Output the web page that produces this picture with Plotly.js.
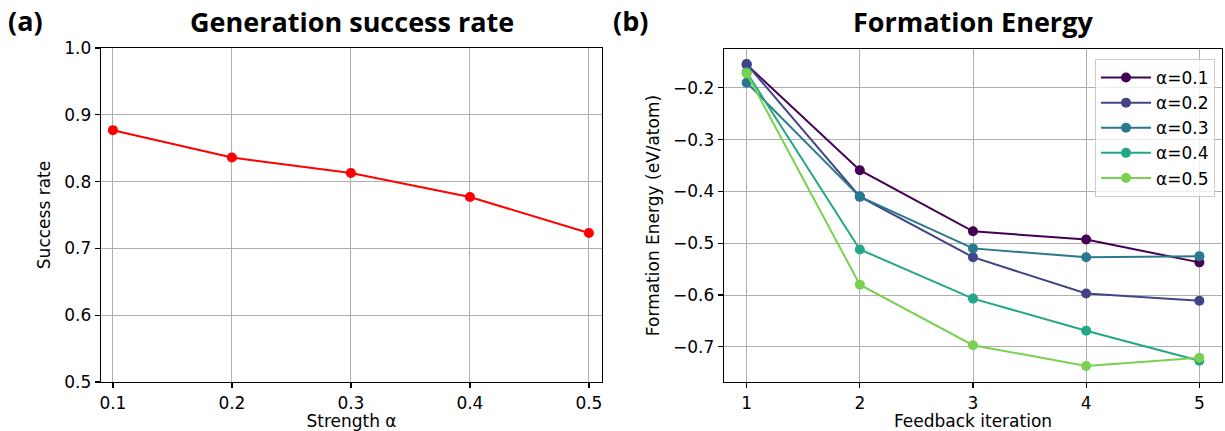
<!DOCTYPE html>
<html>
<head>
<meta charset="utf-8">
<script src="https://cdn.plot.ly/plotly-3.0.1.min.js"></script>
<style>html,body{margin:0;padding:0;background:#fff;}#chart{width:1225px;height:431px;}</style>
</head>
<body>
<div id="chart"></div>
<script>
// Panel (a): generation success rate vs strength
const strengths = [0.1, 0.2, 0.3, 0.4, 0.5];
const successRate = [0.877, 0.836, 0.813, 0.777, 0.723];

// Panel (b): formation energy vs feedback iteration
const iterations = [1, 2, 3, 4, 5];
const seriesNames = ["α=0.1", "α=0.2", "α=0.3", "α=0.4", "α=0.5"];
const energyA01 = [-0.155, -0.359, -0.477, -0.493, -0.537];
const energyA02 = [-0.154, -0.410, -0.527, -0.597, -0.611];
const energyA03 = [-0.190, -0.410, -0.510, -0.527, -0.525];
const energyA04 = [-0.170, -0.512, -0.607, -0.669, -0.727];
const energyA05 = [-0.172, -0.580, -0.697, -0.737, -0.721];
const energySeries = [energyA01, energyA02, energyA03, energyA04, energyA05];
const seriesColors = ["#440154", "#414487", "#2a788e", "#22a884", "#7ad151"];

const W = 1225, H = 431;
const px = x => x / W;
const py = y => 1 - y / H;

const traces = [{
  x: strengths, y: successRate, type: "scatter", mode: "lines+markers",
  line: {color: "#ff0000", width: 2}, marker: {color: "#ff0000", size: 10},
  xaxis: "x", yaxis: "y", showlegend: false
}];
energySeries.forEach((vals, i) => {
  traces.push({
    x: iterations, y: vals, type: "scatter", mode: "lines+markers", name: seriesNames[i],
    line: {color: seriesColors[i], width: 2}, marker: {color: seriesColors[i], size: 10},
    xaxis: "x2", yaxis: "y2"
  });
});

const axisCommon = {
  showline: true, mirror: true, linecolor: "#000", linewidth: 1.25,
  ticks: "outside", ticklen: 5, tickwidth: 1.25, tickcolor: "#000",
  showgrid: true, gridcolor: "#b0b0b0", gridwidth: 1, zeroline: false,
  tickfont: {family: "DejaVu Sans", size: 17, color: "#000"}
};
const titleFont = {family: "DejaVu Sans", size: 17, color: "#000"};

const layout = {
  width: W, height: H,
  margin: {l: 0, r: 0, t: 0, b: 0},
  paper_bgcolor: "#fff", plot_bgcolor: "#fff",
  xaxis: Object.assign({}, axisCommon, {
    domain: [px(101), px(602)], range: [0.09, 0.511], anchor: "y",
    tickvals: strengths, ticktext: ["0.1", "0.2", "0.3", "0.4", "0.5"],
    title: {text: "Strength α", font: titleFont, standoff: 5}
  }),
  yaxis: Object.assign({}, axisCommon, {
    domain: [py(382), py(48)], range: [0.5, 1.0], anchor: "x",
    tickvals: [0.5, 0.6, 0.7, 0.8, 0.9, 1.0], ticktext: ["0.5", "0.6", "0.7", "0.8", "0.9", "1.0"],
    title: {text: "Success rate", font: titleFont, standoff: 9}
  }),
  xaxis2: Object.assign({}, axisCommon, {
    domain: [px(724), px(1222)], range: [0.8, 5.2], anchor: "y2",
    tickvals: iterations,
    title: {text: "Feedback iteration", font: titleFont, standoff: 5}
  }),
  yaxis2: Object.assign({}, axisCommon, {
    domain: [py(382), py(49)], range: [-0.768, -0.125], anchor: "x2",
    tickvals: [-0.7, -0.6, -0.5, -0.4, -0.3, -0.2],
    ticktext: ["−0.7", "−0.6", "−0.5", "−0.4", "−0.3", "−0.2"],
    title: {text: "Formation Energy (eV/atom)", font: titleFont, standoff: 9}
  }),
  legend: {
    x: px(1215), y: py(59), xanchor: "right", yanchor: "top",
    bgcolor: "rgba(255,255,255,0.8)", bordercolor: "#cccccc", borderwidth: 1,
    font: {family: "DejaVu Sans", size: 17, color: "#000"},
    itemwidth: 50
  },
  annotations: [
    {text: "<b>Generation success rate</b>", x: px(351.5), y: py(22), xref: "paper", yref: "paper",
     xanchor: "center", yanchor: "middle", showarrow: false,
     font: {family: "Open Sans", size: 27, color: "#000"}},
    {text: "<b>Formation Energy</b>", x: px(973), y: py(22), xref: "paper", yref: "paper",
     xanchor: "center", yanchor: "middle", showarrow: false,
     font: {family: "Open Sans", size: 27, color: "#000"}},
    {text: "<b>(a)</b>", x: px(6), y: py(20), xref: "paper", yref: "paper",
     xanchor: "left", yanchor: "middle", showarrow: false,
     font: {family: "Open Sans", size: 27, color: "#000"}},
    {text: "<b>(b)</b>", x: px(611), y: py(20), xref: "paper", yref: "paper",
     xanchor: "left", yanchor: "middle", showarrow: false,
     font: {family: "Open Sans", size: 27, color: "#000"}}
  ]
};

Plotly.newPlot("chart", traces, layout, {staticPlot: true, displayModeBar: false});
</script>
</body>
</html>
